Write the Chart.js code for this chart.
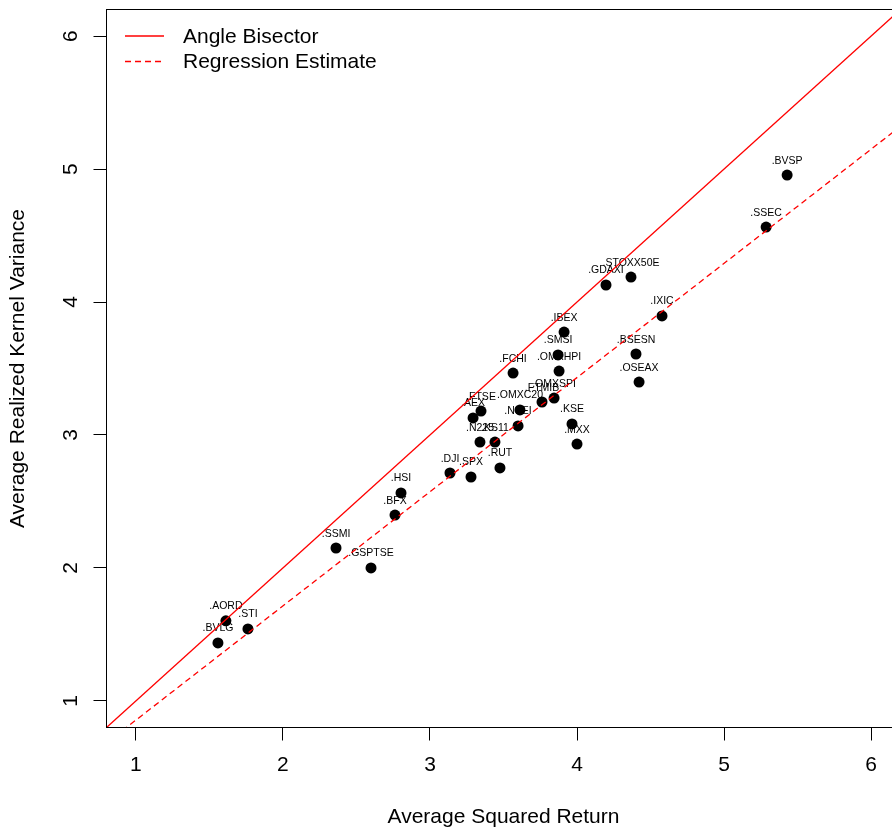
<!DOCTYPE html>
<html><head><meta charset="utf-8">
<script src="https://cdn.jsdelivr.net/npm/chart.js@4/dist/chart.umd.min.js"></script>
<style>html,body{margin:0;padding:0;overflow:hidden;background:#fff;width:892px;height:830px}canvas{display:block}</style>
</head><body>
<canvas id="c" width="910" height="830" style="width:910px;height:830px"></canvas>
<script>
const tickers = ['.BVSP','.SSEC','.STOXX50E','.GDAXI','.IXIC','.BSESN','.OSEAX','.IBEX','.SMSI','.OMXHPI','.FCHI','.OMXSPI','.FTMIB','.FTSE','.AEX','.OMXC20','.NSEI','.N225','.KS11','.KSE','.MXX','.RUT','.DJI','.SPX','.HSI','.BFX','.SSMI','.GSPTSE','.AORD','.STI','.BVLG'];
const avgSquaredReturn = [5.429,5.286,4.367,4.197,4.578,4.401,4.422,3.912,3.871,3.878,3.565,3.844,3.762,3.347,3.293,3.612,3.599,3.340,3.442,3.966,4.000,3.476,3.136,3.279,2.803,2.762,2.361,2.599,1.612,1.762,1.558];
const avgRealizedKernelVar = [4.955,4.564,4.188,4.128,3.895,3.609,3.398,3.774,3.602,3.481,3.466,3.278,3.248,3.180,3.128,3.188,3.068,2.947,2.947,3.083,2.932,2.752,2.714,2.684,2.564,2.398,2.150,2.000,1.602,1.541,1.436];
const xTicks = [1,2,3,4,5,6];
const yTicks = [1,2,3,4,5,6];
const bisectorX = [0.8, 6.2];
const bisectorY = [0.8, 6.2];
const regressionX = [0.8, 6.2];
const regressionY = [0.684, 5.321];
const legendLabels = ['Angle Bisector', 'Regression Estimate'];
const xTitle = 'Average Squared Return';
const yTitle = 'Average Realized Kernel Variance';

const FONT = "'Liberation Sans', Arial, Helvetica, sans-serif";
const zip = (xs, ys) => xs.map((x, i) => ({x, y: ys[i]}));

const decor = {
  id: 'decor',
  beforeDatasetsDraw(chart) {
    const {ctx, scales: {x, y}} = chart;
    ctx.save();
    ctx.fillStyle = '#000';
    ctx.font = '10.5px ' + FONT;
    ctx.textAlign = 'center';
    ctx.textBaseline = 'alphabetic';
    tickers.forEach((t, i) => {
      const px = x.getPixelForValue(avgSquaredReturn[i]);
      const py = y.getPixelForValue(avgRealizedKernelVar[i]);
      ctx.fillText(t, px, py - 11.5);
    });
    ctx.restore();
  },
  afterDraw(chart) {
    const {ctx, chartArea: a, scales: {y}} = chart;
    ctx.save();
    // box
    ctx.strokeStyle = '#000';
    ctx.lineWidth = 1;
    ctx.strokeRect(a.left, a.top, a.right - a.left, a.bottom - a.top);
    // rotated y tick labels
    ctx.fillStyle = '#000';
    ctx.font = '21px ' + FONT;
    ctx.textAlign = 'center';
    ctx.textBaseline = 'middle';
    yTicks.forEach(v => {
      const py = y.getPixelForValue(v);
      ctx.save();
      ctx.translate(70, py);
      ctx.rotate(-Math.PI / 2);
      ctx.fillText(String(v), 0, 1);
      ctx.restore();
    });
    // legend
    ctx.strokeStyle = '#ff0000';
    ctx.lineWidth = 1.3;
    ctx.beginPath(); ctx.moveTo(125, 36); ctx.lineTo(164, 36); ctx.stroke();
    ctx.setLineDash([6, 4]);
    ctx.beginPath(); ctx.moveTo(125, 61.5); ctx.lineTo(164, 61.5); ctx.stroke();
    ctx.setLineDash([]);
    ctx.fillStyle = '#000';
    ctx.textAlign = 'left';
    ctx.textBaseline = 'middle';
    ctx.font = '21px ' + FONT;
    ctx.fillText(legendLabels[0], 183, 37);
    ctx.fillText(legendLabels[1], 183, 62.5);
    ctx.restore();
  }
};

new Chart(document.getElementById('c'), {
  type: 'scatter',
  data: {
    datasets: [
      {type: 'line', label: legendLabels[0], data: zip(bisectorX, bisectorY), borderColor: '#ff0000', borderWidth: 1.3, pointRadius: 0, fill: false, order: 0},
      {type: 'line', label: legendLabels[1], data: zip(regressionX, regressionY), borderColor: '#ff0000', borderWidth: 1.3, borderDash: [6, 4], pointRadius: 0, fill: false, order: 0},
      {label: 'Indices', data: zip(avgSquaredReturn, avgRealizedKernelVar), backgroundColor: '#000', borderColor: '#000', pointRadius: 5.5, pointBorderWidth: 0, order: 1}
    ]
  },
  options: {
    responsive: false,
    animation: false,
    devicePixelRatio: 1,
    layout: {padding: {left: 0, right: 9.5, top: 9.5, bottom: 0}},
    plugins: {legend: {display: false}, tooltip: {enabled: false}},
    scales: {
      x: {
        type: 'linear', min: 0.8, max: 6.2,
        afterBuildTicks: s => { s.ticks = xTicks.map(v => ({value: v})); },
        afterFit: s => { s.height = 102.5; },
        grid: {drawOnChartArea: false, drawTicks: true, tickLength: 13, color: '#000', lineWidth: 1},
        border: {display: false},
        ticks: {color: '#000', font: {family: FONT, size: 21}, padding: 12, maxRotation: 0, autoSkip: false},
        title: {display: true, text: xTitle, color: '#000', font: {family: FONT, size: 21}, padding: {top: 0, bottom: 0.5}}
      },
      y: {
        type: 'linear', min: 0.8, max: 6.2,
        afterBuildTicks: s => { s.ticks = yTicks.map(v => ({value: v})); },
        afterFit: s => { s.width = 106.5; },
        grid: {drawOnChartArea: false, drawTicks: true, tickLength: 13, color: '#000', lineWidth: 1},
        border: {display: false},
        ticks: {display: false},
        title: {display: true, text: yTitle, color: '#000', font: {family: FONT, size: 21}, padding: {top: 5.5, bottom: 0}}
      }
    }
  },
  plugins: [decor]
});
</script>
</body></html>
